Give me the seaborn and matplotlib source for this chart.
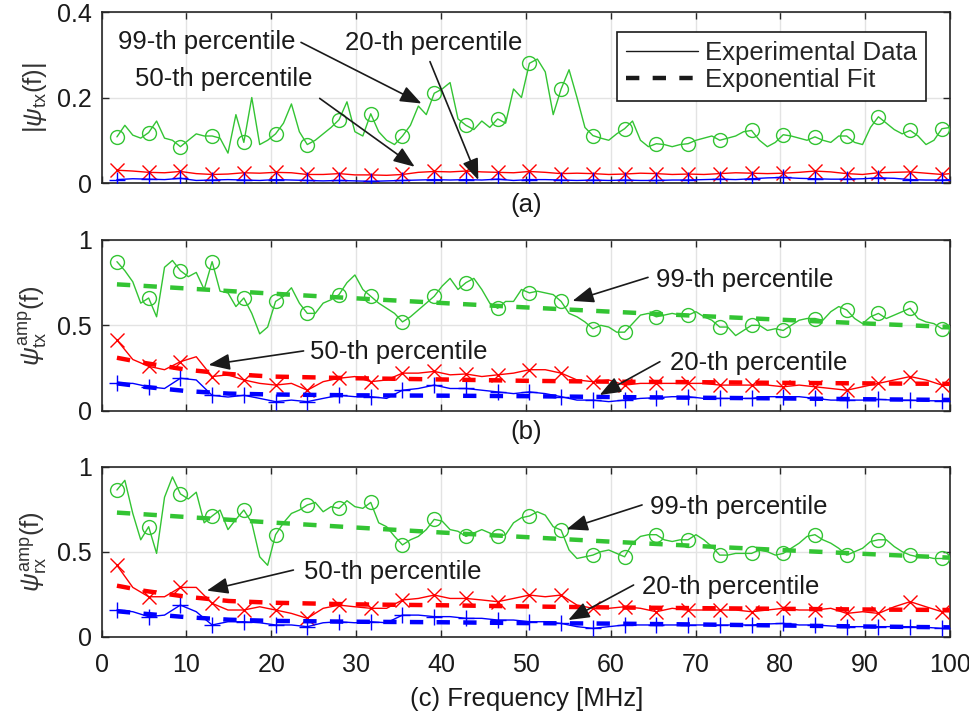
import numpy as np
import matplotlib
matplotlib.use("Agg")
import matplotlib.pyplot as plt
import seaborn as sns
from matplotlib.lines import Line2D

# ---------------- data ----------------
# fine grid for the 99-th percentile curves, coarse grid for 50-th / 20-th
freq_fine = np.append(np.linspace(1.8, 99.04, 105), 100.0)
freq_coarse = np.append(np.linspace(1.8, 99.04, 53), 100.0)
fit_freq = [1.8, 5, 10, 15, 20, 30, 40, 50, 60, 70, 80, 90, 100]

x_ticks = [0, 10, 20, 30, 40, 50, 60, 70, 80, 90, 100]
x_ticklabels = ["0", "10", "20", "30", "40", "50", "60", "70", "80", "90", "100"]
ya_ticks = [0, 0.2, 0.4]
ya_ticklabels = ["0", "0.2", "0.4"]
yb_ticks = [0, 0.5, 1]
yb_ticklabels = ["0", "0.5", "1"]

# panel (a) |psi_tx(f)|
green_a = [0.108, 0.135, 0.112, 0.105, 0.118, 0.145, 0.105, 0.100, 0.085, 0.100,
           0.115, 0.110, 0.110, 0.105, 0.070, 0.160, 0.095, 0.200, 0.090, 0.100,
           0.115, 0.140, 0.185, 0.120, 0.090, 0.100, 0.115, 0.130, 0.148, 0.190,
           0.120, 0.110, 0.162, 0.120, 0.100, 0.090, 0.110, 0.135, 0.180, 0.160,
           0.210, 0.220, 0.235, 0.150, 0.135, 0.125, 0.145, 0.130, 0.150, 0.140,
           0.220, 0.200, 0.280, 0.290, 0.260, 0.160, 0.220, 0.265, 0.200, 0.130,
           0.111, 0.105, 0.100, 0.115, 0.127, 0.145, 0.100, 0.085, 0.092, 0.090,
           0.085, 0.090, 0.092, 0.100, 0.105, 0.110, 0.100, 0.105, 0.110, 0.120,
           0.123, 0.100, 0.085, 0.095, 0.113, 0.110, 0.105, 0.100, 0.108, 0.100,
           0.095, 0.110, 0.110, 0.095, 0.090, 0.130, 0.155, 0.140, 0.125, 0.115,
           0.123, 0.110, 0.090, 0.100, 0.127, 0.130]
red_a = [0.030, 0.028, 0.025, 0.024, 0.027, 0.022, 0.020, 0.021, 0.024, 0.023,
         0.025, 0.024, 0.020, 0.020, 0.022, 0.019, 0.019, 0.018, 0.020, 0.025,
         0.027, 0.026, 0.028, 0.026, 0.025, 0.024, 0.027, 0.025, 0.022, 0.023,
         0.022, 0.020, 0.021, 0.023, 0.022, 0.020, 0.021, 0.020, 0.022, 0.024,
         0.023, 0.022, 0.023, 0.025, 0.028, 0.026, 0.022, 0.020, 0.024, 0.025,
         0.026, 0.023, 0.020, 0.022]
blue_a = [0.008, 0.010, 0.009, 0.008, 0.011, 0.006, 0.007, 0.008, 0.007, 0.006,
          0.008, 0.007, 0.006, 0.005, 0.006, 0.005, 0.004, 0.005, 0.006, 0.007,
          0.008, 0.007, 0.008, 0.007, 0.009, 0.006, 0.008, 0.008, 0.007, 0.006,
          0.007, 0.006, 0.007, 0.006, 0.006, 0.007, 0.007, 0.008, 0.009, 0.008,
          0.010, 0.012, 0.013, 0.011, 0.010, 0.009, 0.009, 0.010, 0.012, 0.011,
          0.008, 0.007, 0.007, 0.008]

# panel (b) psi_tx^amp(f)
green_b = [0.873, 0.82, 0.755, 0.63, 0.66, 0.55, 0.84, 0.88, 0.82, 0.785,
           0.81, 0.71, 0.873, 0.70, 0.69, 0.61, 0.66, 0.57, 0.45, 0.49,
           0.64, 0.67, 0.72, 0.63, 0.57, 0.57, 0.63, 0.65, 0.68, 0.75,
           0.795, 0.71, 0.67, 0.63, 0.60, 0.57, 0.52, 0.55, 0.59, 0.63,
           0.67, 0.73, 0.775, 0.71, 0.75, 0.775, 0.71, 0.63, 0.60, 0.64,
           0.64, 0.71, 0.69, 0.70, 0.69, 0.68, 0.64, 0.57, 0.55, 0.52,
           0.48, 0.50, 0.49, 0.46, 0.46, 0.51, 0.56, 0.57, 0.55, 0.56,
           0.57, 0.56, 0.56, 0.58, 0.55, 0.53, 0.49, 0.49, 0.44, 0.47,
           0.50, 0.50, 0.47, 0.48, 0.47, 0.50, 0.53, 0.54, 0.54, 0.53,
           0.58, 0.61, 0.59, 0.54, 0.51, 0.55, 0.57, 0.54, 0.56, 0.58,
           0.60, 0.54, 0.52, 0.51, 0.48, 0.48]
red_b = [0.414, 0.30, 0.26, 0.24, 0.287, 0.316, 0.20, 0.21, 0.18, 0.16,
         0.15, 0.16, 0.12, 0.17, 0.19, 0.20, 0.17, 0.18, 0.22, 0.22,
         0.23, 0.21, 0.215, 0.20, 0.21, 0.22, 0.24, 0.24, 0.22, 0.18,
         0.17, 0.18, 0.15, 0.16, 0.16, 0.16, 0.16, 0.16, 0.15, 0.15,
         0.15, 0.15, 0.14, 0.15, 0.14, 0.13, 0.12, 0.14, 0.16, 0.18,
         0.20, 0.18, 0.15, 0.15]
blue_b = [0.16, 0.16, 0.14, 0.13, 0.19, 0.18, 0.09, 0.08, 0.09, 0.072,
          0.053, 0.062, 0.053, 0.072, 0.09, 0.082, 0.082, 0.072, 0.12, 0.13,
          0.15, 0.13, 0.13, 0.12, 0.11, 0.10, 0.11, 0.10, 0.082, 0.062,
          0.062, 0.053, 0.062, 0.072, 0.076, 0.082, 0.082, 0.072, 0.072, 0.072,
          0.072, 0.082, 0.082, 0.082, 0.072, 0.062, 0.062, 0.062, 0.066, 0.062,
          0.062, 0.058, 0.058, 0.058]
green_fit_b = [0.74, 0.731, 0.716, 0.701, 0.686, 0.658, 0.631, 0.605, 0.58, 0.556, 0.533, 0.511, 0.49]
red_fit_b = [0.31, 0.28, 0.24, 0.215, 0.20, 0.19, 0.183, 0.175, 0.17, 0.167, 0.163, 0.16, 0.157]
blue_fit_b = [0.16, 0.14, 0.115, 0.10, 0.095, 0.09, 0.088, 0.085, 0.08, 0.076, 0.072, 0.067, 0.063]

# panel (c) psi_rx^amp(f)
green_c = [0.863, 0.92, 0.725, 0.57, 0.647, 0.49, 0.82, 0.94, 0.84, 0.81,
           0.85, 0.67, 0.71, 0.745, 0.63, 0.69, 0.745, 0.67, 0.47, 0.42,
           0.60, 0.67, 0.725, 0.745, 0.775, 0.79, 0.735, 0.765, 0.755, 0.80,
           0.765, 0.755, 0.79, 0.67, 0.647, 0.59, 0.54, 0.57, 0.59, 0.63,
           0.69, 0.68, 0.63, 0.62, 0.59, 0.61, 0.63, 0.61, 0.59, 0.60,
           0.67, 0.70, 0.71, 0.735, 0.715, 0.647, 0.627, 0.51, 0.46, 0.47,
           0.48, 0.50, 0.51, 0.49, 0.47, 0.55, 0.59, 0.60, 0.60, 0.57,
           0.56, 0.57, 0.57, 0.60, 0.57, 0.53, 0.48, 0.48, 0.49, 0.49,
           0.49, 0.51, 0.50, 0.48, 0.49, 0.52, 0.55, 0.59, 0.60, 0.57,
           0.55, 0.52, 0.48, 0.50, 0.52, 0.56, 0.57, 0.57, 0.53, 0.50,
           0.48, 0.47, 0.47, 0.46, 0.46, 0.46]
red_c = [0.42, 0.29, 0.235, 0.235, 0.29, 0.29, 0.196, 0.157, 0.157, 0.176,
         0.157, 0.137, 0.108, 0.167, 0.186, 0.176, 0.167, 0.167, 0.216, 0.225,
         0.245, 0.225, 0.225, 0.216, 0.206, 0.225, 0.245, 0.235, 0.245, 0.186,
         0.167, 0.167, 0.176, 0.167, 0.147, 0.167, 0.157, 0.157, 0.157, 0.157,
         0.147, 0.157, 0.167, 0.157, 0.157, 0.167, 0.137, 0.147, 0.137, 0.176,
         0.206, 0.176, 0.147, 0.147]
blue_c = [0.157, 0.147, 0.118, 0.127, 0.186, 0.147, 0.069, 0.088, 0.088, 0.082,
          0.069, 0.069, 0.059, 0.082, 0.088, 0.082, 0.088, 0.082, 0.127, 0.127,
          0.118, 0.118, 0.108, 0.108, 0.098, 0.098, 0.088, 0.088, 0.078, 0.059,
          0.049, 0.059, 0.069, 0.069, 0.069, 0.069, 0.069, 0.069, 0.069, 0.069,
          0.069, 0.075, 0.078, 0.069, 0.069, 0.063, 0.059, 0.059, 0.059, 0.059,
          0.059, 0.055, 0.049, 0.050]
green_fit_c = [0.73, 0.72, 0.704, 0.688, 0.672, 0.642, 0.613, 0.586, 0.559, 0.534, 0.51, 0.487, 0.465]
red_fit_c = [0.30, 0.27, 0.235, 0.21, 0.20, 0.19, 0.185, 0.178, 0.172, 0.168, 0.164, 0.16, 0.157]
blue_fit_c = [0.15, 0.135, 0.115, 0.10, 0.093, 0.088, 0.085, 0.08, 0.077, 0.072, 0.066, 0.06, 0.055]

ylabels = [r"$|\psi_{\mathrm{tx}}(\mathrm{f})|$",
           r"$\psi_{\mathrm{tx}}^{\mathrm{amp}}(\mathrm{f})$",
           r"$\psi_{\mathrm{rx}}^{\mathrm{amp}}(\mathrm{f})$"]
panel_labels = ["(a)", "(b)", "(c) Frequency [MHz]"]
legend_labels = ["Experimental Data", "Exponential Fit"]

# annotations: (text, text_xy, arrow_tail, arrow_head)
annots = [
    [("99-th percentile", (1.9, 0.330), (23.5, 0.329), (37.7, 0.186)),
     ("20-th percentile", (28.7, 0.328), (38.7, 0.284), (44.4, 0.007)),
     ("50-th percentile", (3.9, 0.243), (25.7, 0.198), (36.9, 0.038))],
    [("99-th percentile", (65.4, 0.766), (64.4, 0.781), (55.5, 0.643)),
     ("50-th percentile", (24.5, 0.346), (23.8, 0.350), (12.6, 0.268)),
     ("20-th percentile", (67.0, 0.278), (65.8, 0.287), (58.7, 0.092))],
    [("99-th percentile", (64.6, 0.765), (63.7, 0.775), (54.8, 0.632)),
     ("50-th percentile", (23.8, 0.382), (22.6, 0.392), (12.4, 0.271)),
     ("20-th percentile", (63.7, 0.294), (62.7, 0.304), (55.0, 0.098))],
]

# ---------------- style ----------------
sns.set_theme(style="whitegrid")
plt.rcParams['font.family'] = ['Liberation Sans', 'DejaVu Sans']
plt.rcParams['mathtext.fontset'] = 'custom'
plt.rcParams['mathtext.rm'] = 'Liberation Sans'
plt.rcParams['mathtext.it'] = 'Liberation Sans:italic'
plt.rcParams['mathtext.bf'] = 'Liberation Sans:bold'

GREEN = '#33c433'
RED = '#ff0000'
BLUE = '#0000ff'
EDGE = '#262626'
FS = 18.5
TFS = 18

fig = plt.figure(figsize=(9.7, 7.2), dpi=100)
positions = [[0.1048, 0.7458, 0.8746, 0.2375],
             [0.1048, 0.4296, 0.8746, 0.2371],
             [0.1048, 0.1157, 0.8746, 0.2361]]
axes = [fig.add_axes(p) for p in positions]


def data_line(ax, x, y, color, marker, every, ms):
    sns.lineplot(x=x, y=y, ax=ax, color=color, linewidth=1.0, marker=marker,
                 markevery=every, markersize=ms, markeredgecolor=color,
                 markerfacecolor='none', markeredgewidth=1.0,
                 estimator=None, sort=False, legend=False, zorder=3)


def fit_line(ax, y, color):
    sns.lineplot(x=fit_freq, y=y, ax=ax, color=color, linewidth=3.2,
                 estimator=None, sort=False, legend=False, zorder=4)
    ax.lines[-1].set_linestyle((0, (3, 3)))


series = [
    (green_a, red_a, blue_a, None),
    (green_b, red_b, blue_b, (green_fit_b, red_fit_b, blue_fit_b)),
    (green_c, red_c, blue_c, (green_fit_c, red_fit_c, blue_fit_c)),
]

for k, ax in enumerate(axes):
    g, r, b, fits = series[k]
    data_line(ax, freq_fine, g, GREEN, 'o', slice(0, 105, 4), 10)
    data_line(ax, freq_coarse, r, RED, 'x', slice(0, 53, 2), 10.5)
    data_line(ax, freq_coarse, b, BLUE, '+', slice(0, 53, 2), 11)
    if fits is not None:
        fit_line(ax, fits[0], GREEN)
        fit_line(ax, fits[1], RED)
        fit_line(ax, fits[2], BLUE)

    ax.set_xlim(0, 100)
    ax.set_xticks(x_ticks)
    if k == 0:
        ax.set_ylim(0, 0.4)
        ax.set_yticks(ya_ticks)
        ax.set_yticklabels(ya_ticklabels)
    else:
        ax.set_ylim(0, 1)
        ax.set_yticks(yb_ticks)
        ax.set_yticklabels(yb_ticklabels)
    if k == 2:
        ax.set_xticklabels(x_ticklabels)
    else:
        ax.set_xticklabels([])
    ax.set_xlabel("")
    ax.set_ylabel(ylabels[k], fontsize=FS, color='#333333')
    ax.yaxis.set_label_coords(-0.062, 0.5)
    ax.grid(True, color='#e3e3e3', linewidth=1.0)
    ax.set_axisbelow(True)
    for s in ax.spines.values():
        s.set_visible(True)
        s.set_color(EDGE)
        s.set_linewidth(1.2)
    ax.tick_params(axis='both', which='major', direction='in', length=5,
                   width=1.0, color=EDGE, top=True, right=True, bottom=True,
                   left=True, labelsize=TFS, labelcolor='#1a1a1a')
    ax.tick_params(axis='x', pad=12)
    ax.tick_params(axis='y', pad=7)
    ax.set_facecolor('white')

    for text, txy, tail, head in annots[k]:
        ax.text(txy[0], txy[1], text, fontsize=FS, ha='left', va='center',
                color='k', zorder=6)
        ax.annotate('', xy=head, xytext=tail,
                    arrowprops=dict(arrowstyle='-|>,head_length=0.65,head_width=0.25',
                                    color='k', lw=1.2, shrinkA=0, shrinkB=0,
                                    mutation_scale=20), zorder=6)

# legend
handles = [Line2D([], [], color='k', lw=1.0),
           Line2D([], [], color='k', lw=3.2, linestyle=(0, (3, 3)))]
leg = axes[0].legend(handles, legend_labels, loc='upper right',
                     bbox_to_anchor=(0.972, 0.883), fontsize=FS, frameon=True,
                     fancybox=False, edgecolor='k', framealpha=1,
                     handlelength=2.8, handletextpad=0.3, labelspacing=0.12,
                     borderpad=0.35, borderaxespad=0)
leg.get_frame().set_linewidth(1.2)
leg.set_zorder(10)

# panel labels
fig.text(0.5425, 1 - 205 / 720, panel_labels[0], fontsize=FS, ha='center', va='center', color='#1a1a1a')
fig.text(0.5425, 1 - 432 / 720, panel_labels[1], fontsize=FS, ha='center', va='center', color='#1a1a1a')
fig.text(0.5425, 1 - 699 / 720, panel_labels[2], fontsize=FS, ha='center', va='center', color='#1a1a1a')

fig.savefig("out.png", dpi=100, facecolor='white')
